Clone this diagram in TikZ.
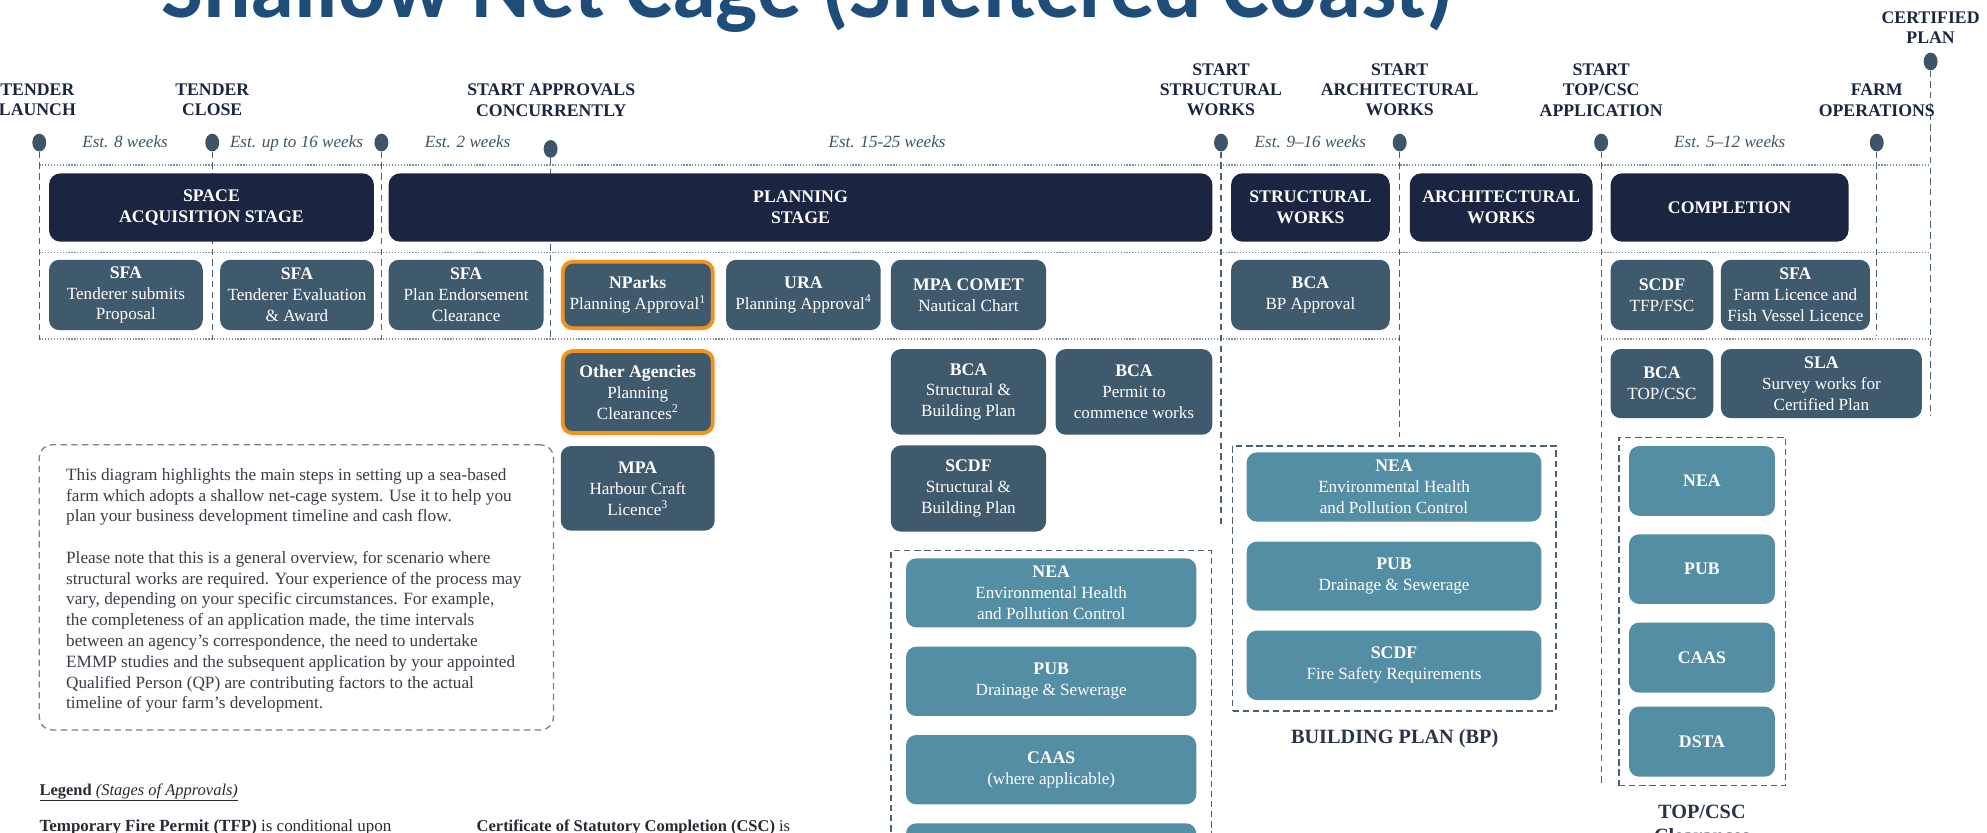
\documentclass[tikz,border=0pt]{standalone}
\usepackage{fontspec}
\setmainfont{Liberation Serif}
\newfontfamily\titlefont{Carlito}
\usetikzlibrary{shapes.geometric}
\definecolor{cNavy}{HTML}{1B2541}
\definecolor{cSlate}{HTML}{3F5A6C}
\definecolor{cTeal}{HTML}{548EA4}
\definecolor{cOrange}{HTML}{F5921E}
\definecolor{cDot}{HTML}{3D5567}
\definecolor{cLine}{HTML}{4B6173}
\definecolor{cDotted}{HTML}{7F8FA0}
\definecolor{cTitle}{HTML}{1F4D7A}
\definecolor{cText}{HTML}{3A3D48}
\definecolor{cNote}{HTML}{7A7F88}
\newcommand\bx[7]{\node[#6,anchor=north west,minimum width={(#4)-(#2)},minimum height={(#5)-(#3)}] (#1) at (#2,#3) {#7};}
\newcommand\hb[1]{{\fontsize{14}{16.5}\selectfont\bfseries #1}}
\tikzset{
  stagebox/.style={fill=cNavy, rounded corners=9pt, text=white, font=\fontsize{14}{16.3}\selectfont\bfseries, align=center, inner sep=0pt, outer sep=0pt},
  slatebox/.style={fill=cSlate, rounded corners=8pt, text=white, font=\fontsize{13.5}{16.5}\selectfont, align=center, inner sep=0pt, outer sep=0pt},
  orangebox/.style={slatebox, draw=cOrange, line width=3pt},
  tealbox/.style={slatebox, fill=cTeal},
  dbox/.style={draw=cLine, dash pattern=on 5pt off 3pt, line width=1.1pt, inner sep=0pt, outer sep=0pt},
  notebox/.style={draw=cNote, dash pattern=on 5pt off 3.5pt, line width=1pt, rounded corners=10pt, inner sep=0pt, outer sep=0pt},
  ms/.style={font=\fontsize{14}{16}\selectfont\bfseries, text=cNavy, align=center, inner sep=0pt},
  est/.style={font=\fontsize{13.5}{16}\selectfont\itshape, text=cDot, inner sep=0pt, anchor=base},
  dot/.style={ellipse, fill=cDot, minimum width=11pt, minimum height=14pt, inner sep=0pt},
  vline/.style={draw=cLine, dash pattern=on 5pt off 3.5pt, line width=1pt},
  hdot/.style={draw=cDotted, dash pattern=on 1pt off 1.3pt, line width=0.9pt},
  grplabel/.style={font=\fontsize{16}{18}\selectfont\bfseries, text=cNavy!85!gray, inner sep=0pt, anchor=base},
}
\begin{document}
\begin{tikzpicture}[x=1pt,y=-1pt]
\useasboundingbox (0,0) rectangle (1568,657);
\fill[white] (0,0) rectangle (1568,657);
\clip (0,0) rectangle (1568,657);

% title
\node[anchor=base west, inner sep=0pt, text=cTitle, font=\titlefont\fontsize{70}{70}\selectfont\bfseries] (title) at (127,14) {Shallow Net Cage (Sheltered Coast)};

% horizontal dotted lines
\coordinate (h1a) at (31,130.2); \coordinate (h1b) at (1523.5,130.2);
\coordinate (h2a) at (31,199.4); \coordinate (h2b) at (1523.5,199.4);
\coordinate (h3a) at (31,267.5); \coordinate (h3b) at (1104.5,267.5);
\coordinate (h4a) at (1263.5,267.5); \coordinate (h4b) at (1523.5,267.5);
\draw[hdot] (h1a) -- (h1b);
\draw[hdot] (h2a) -- (h2b);
\draw[hdot] (h3a) -- (h3b);
\draw[hdot] (h4a) -- (h4b);

% milestone dots
\node[dot] (d1) at (31,112.5) {};
\node[dot] (d2) at (167.5,112.5) {};
\node[dot] (d3) at (301,112.5) {};
\node[dot] (d4) at (434.5,117.5) {};
\node[dot] (d5) at (963.5,112.5) {};
\node[dot] (d6) at (1104.5,112.5) {};
\node[dot] (d7) at (1263.5,112.5) {};
\node[dot] (d8) at (1481,112.5) {};
\node[dot] (d9) at (1523.5,48.5) {};

\coordinate (e1) at (31,268);
\coordinate (e2) at (167.5,268);
\coordinate (e3) at (301,268);
\coordinate (e4) at (434.5,268);
\coordinate (e5) at (963.5,417);
\coordinate (e6) at (1104.5,345);
\coordinate (e7) at (1263.5,621);
\coordinate (e8) at (1481,265);
\coordinate (e9) at (1523.5,328);
\foreach \i in {1,...,9} {\draw[vline] (d\i.south) -- (e\i);}

% milestone labels
\node[ms] (lbllaunch) at (29.5,79) {TENDER\\LAUNCH};
\node[ms] (lblclose) at (167.5,79) {TENDER\\CLOSE};
\node[ms] (lblapprov) at (435,79) {START APPROVALS\\CONCURRENTLY};
\node[ms] (lblstruct) at (963.5,71) {START\\STRUCTURAL\\WORKS};
\node[ms] (lblarch) at (1104.5,71) {START\\ARCHITECTURAL\\WORKS};
\node[ms] (lbltop) at (1263.5,71) {START\\TOP/CSC\\APPLICATION};
\node[ms] (lblfarm) at (1481,79) {FARM\\OPERATIONS};
\node[ms] (lblcert) at (1523.5,21.7) {CERTIFIED\\PLAN};

% durations
\node[est] (esta) at (98.7,116.3) {Est. 8 weeks};
\node[est] (estb) at (234,116.3) {Est. up to 16 weeks};
\node[est] (estc) at (369,116.3) {Est. 2 weeks};
\node[est] (estd) at (700,116.3) {Est. 15-25 weeks};
\node[est] (este) at (1034,116.3) {Est. 9–16 weeks};
\node[est] (estf) at (1365,116.3) {Est. 5–12 weeks};

% stage boxes
\bx{space}{38.7}{136.8}{295}{190.7}{stagebox}{SPACE\\ACQUISITION STAGE}
\bx{planning}{306.7}{136.8}{956.7}{190.7}{stagebox}{PLANNING\\STAGE}
\bx{structural}{971.5}{136.8}{1096.7}{190.7}{stagebox}{STRUCTURAL\\WORKS}
\bx{architectural}{1112.5}{136.8}{1256.7}{190.7}{stagebox}{ARCHITECTURAL\\WORKS}
\bx{completion}{1271}{136.8}{1458.7}{190.7}{stagebox}{COMPLETION}

% row 2
\bx{sfaone}{38.7}{205}{160}{260.5}{slatebox}{\hb{SFA}\\Tenderer submits\\Proposal}
\bx{sfatwo}{173.7}{205}{295}{260.5}{slatebox}{\hb{SFA}\\Tenderer Evaluation\\\& Award}
\bx{sfathree}{306.7}{205}{429}{260.5}{slatebox}{\hb{SFA}\\Plan Endorsement\\Clearance}
\bx{nparks}{444}{206.5}{562.5}{259}{orangebox}{\hb{NParks}\\Planning Approval\textsuperscript{1}}
\bx{ura}{573}{205}{695}{260.5}{slatebox}{\hb{URA}\\Planning Approval\textsuperscript{4}}
\bx{comet}{703}{205}{825.5}{260.5}{slatebox}{\hb{MPA COMET}\\Nautical Chart}
\bx{bcabp}{971.5}{205}{1096.7}{260.5}{slatebox}{\hb{BCA}\\BP Approval}
\bx{scdftfp}{1271}{205}{1352}{260.5}{slatebox}{\hb{SCDF}\\TFP/FSC}
\bx{sfafarm}{1358}{205}{1475.6}{260.5}{slatebox}{\hb{SFA}\\Farm Licence and\\Fish Vessel Licence}

% row 3
\bx{other}{444}{277}{562.5}{341.8}{orangebox}{\hb{Other Agencies}\\Planning\\Clearances\textsuperscript{2}}
\bx{bcastruct}{703}{275.5}{825.5}{343}{slatebox}{\hb{BCA}\\Structural \&\\Building Plan}
\bx{bcapermit}{833}{275.5}{956.7}{343}{slatebox}{\hb{BCA}\\Permit to\\commence works}
\bx{bcatop}{1271}{275.4}{1352}{330}{slatebox}{\hb{BCA}\\TOP/CSC}
\bx{sla}{1358}{275.4}{1516.6}{330}{slatebox}{\hb{SLA}\\Survey works for\\Certified Plan}

% row 4
\bx{mpahc}{442.5}{352}{564}{418.7}{slatebox}{\hb{MPA}\\Harbour Craft\\Licence\textsuperscript{3}}
\bx{scdfstruct}{703}{351.5}{825.5}{419.5}{slatebox}{\hb{SCDF}\\Structural \&\\Building Plan}

% middle group
\bx{midgroup}{703}{434.6}{956}{720}{dbox}{}
\bx{neaone}{715}{440.6}{944}{495}{tealbox}{\hb{NEA}\\Environmental Health\\and Pollution Control}
\bx{pubone}{715}{510.3}{944}{565}{tealbox}{\hb{PUB}\\Drainage \& Sewerage}
\bx{caasone}{715}{580}{944}{634.7}{tealbox}{\hb{CAAS}\\(where applicable)}
\bx{boxfour}{715}{649.7}{944}{704.4}{tealbox}{}

% building plan group
\bx{bpgroup}{972.6}{352}{1228}{561}{dbox}{}
\bx{neatwo}{983.8}{357}{1216.3}{411.6}{tealbox}{\hb{NEA}\\Environmental Health\\and Pollution Control}
\bx{pubtwo}{983.8}{427.4}{1216.3}{481.9}{tealbox}{\hb{PUB}\\Drainage \& Sewerage}
\bx{scdftwo}{983.8}{497.7}{1216.3}{552.4}{tealbox}{\hb{SCDF}\\Fire Safety Requirements}
\node[grplabel] (bplabel) at (1100.6,587) {BUILDING PLAN (BP)};

% top/csc group
\bx{topgroup}{1277.6}{345}{1409}{620}{dbox}{}
\bx{neathree}{1285.5}{352}{1400.6}{407}{tealbox}{\hb{NEA}}
\bx{pubthree}{1285.5}{421.6}{1400.6}{476.6}{tealbox}{\hb{PUB}}
\bx{caasthree}{1285.5}{491.3}{1400.6}{546.6}{tealbox}{\hb{CAAS}}
\bx{dstathree}{1285.5}{557.6}{1400.6}{612.9}{tealbox}{\hb{DSTA}}
\node[grplabel] (toplabel) at (1343,646) {TOP/CSC};
\node[grplabel] (toplabeltwo) at (1343,665) {Clearances};

% note box
\bx{note}{31}{351}{436.8}{576}{notebox}{}
\node[anchor=base west, inner sep=0pt, text=cText, font=\fontsize{13.6}{16.4}\selectfont] (notetext) at (52,379) {\parbox[t]{380pt}{\raggedright
This diagram highlights the main steps in setting up a sea-based\\
farm which adopts a shallow net-cage system. Use it to help you\\
plan your business development timeline and cash flow.\\[16.4pt]
Please note that this is a general overview, for scenario where\\
structural works are required. Your experience of the process may\\
vary, depending on your specific circumstances. For example,\\
the completeness of an application made, the time intervals\\
between an agency’s correspondence, the need to undertake\\
EMMP studies and the subsequent application by your appointed\\
Qualified Person (QP) are contributing factors to the actual\\
timeline of your farm’s development.}};

% legend
\node[anchor=base west, inner sep=0pt, text=cText!70!black, font=\fontsize{13}{16}\selectfont] (legend) at (31,627.5) {\underline{\textbf{Legend} \textit{(Stages of Approvals)}}};
\node[anchor=base west, inner sep=0pt, text=cText!70!black, font=\fontsize{13.4}{16}\selectfont] (tfp) at (31,656) {\textbf{Temporary Fire Permit (TFP)} is conditional upon};
\node[anchor=base west, inner sep=0pt, text=cText!70!black, font=\fontsize{13}{16}\selectfont] (csc) at (376,656) {\textbf{Certificate of Statutory Completion (CSC)} is};
\end{tikzpicture}
\end{document}
